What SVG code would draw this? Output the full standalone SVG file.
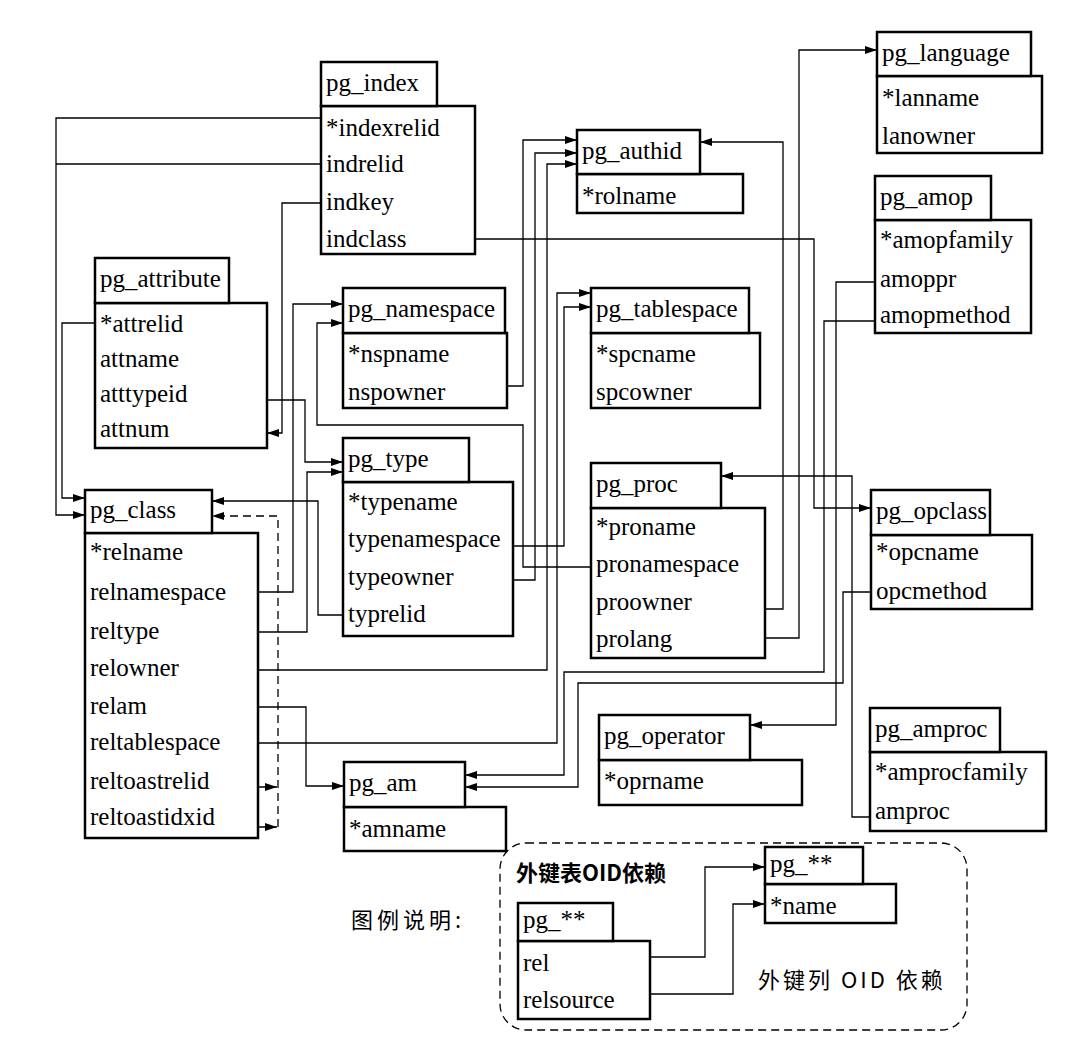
<svg xmlns="http://www.w3.org/2000/svg" width="1080" height="1046" viewBox="0 0 1080 1046">
<style>
.b{fill:#fff;stroke:#000;stroke-width:2.5}
.t{font-family:"Liberation Serif","Times New Roman",serif;font-size:25px;fill:#000}
.c{fill:none;stroke:#000;stroke-width:1.3}
.d{fill:none;stroke:#000;stroke-width:1.3;stroke-dasharray:8 5}
.z{font-family:"Noto Sans CJK SC","Noto Sans",sans-serif;font-size:22px;fill:#000}
</style>
<defs>
<marker id="a" viewBox="0 0 12 8" refX="12" refY="4" markerWidth="12" markerHeight="8" markerUnits="userSpaceOnUse" orient="auto"><path d="M0,0 L12,4 L0,8 z" fill="#000"/></marker>
</defs>
<rect width="1080" height="1046" fill="#fff"/>

<g id="connectors">
<path class="c" d="M321,118 H56 V515 H85" marker-end="url(#a)"/>
<path class="c" d="M321,164 H56"/>
<path class="c" d="M321,203 H282 V433 H267" marker-end="url(#a)"/>
<path class="c" d="M475,239 H814 V508 H871" marker-end="url(#a)"/>
<path class="c" d="M95,323 H62 V498 H85" marker-end="url(#a)"/>
<path class="c" d="M267,400 H305 V462 H343" marker-end="url(#a)"/>
<path class="c" d="M258,592 H293 V304 H343" marker-end="url(#a)"/>
<path class="c" d="M258,632 H307 V472 H343" marker-end="url(#a)"/>
<path class="c" d="M343,615 H318 V501 H212" marker-end="url(#a)"/>
<path class="c" d="M258,707 H306 V786 H344" marker-end="url(#a)"/>
<path class="d" d="M278,827 V516 H212" marker-end="url(#a)"/>
<path class="d" d="M258,787 H277" marker-end="url(#a)"/>
<path class="d" d="M258,827 H277" marker-end="url(#a)"/>
<path class="c" d="M258,670 H547 V164 H577" marker-end="url(#a)"/>
<path class="c" d="M258,743 H557 V293 H591" marker-end="url(#a)"/>
<path class="c" d="M507,386 H523 V140 H577" marker-end="url(#a)"/>
<path class="c" d="M513,580 H535 V153 H577" marker-end="url(#a)"/>
<path class="c" d="M513,546 H564 V307 H591" marker-end="url(#a)"/>
<path class="c" d="M591,567 H523 V425 H317 V323 H343" marker-end="url(#a)"/>
<path class="c" d="M765,609 H783 V142 H700" marker-end="url(#a)"/>
<path class="c" d="M765,638 H799 V50 H877" marker-end="url(#a)"/>
<path class="c" d="M875,282 H836 V725 H750" marker-end="url(#a)"/>
<path class="c" d="M875,321 H824 V672 H564 V775 H465" marker-end="url(#a)"/>
<path class="c" d="M871,592 H843 V683 H578 V787 H465" marker-end="url(#a)"/>
<path class="c" d="M870,817 H852 V476 H721" marker-end="url(#a)"/>
<path class="c" d="M650,957 H705 V867 H765" marker-end="url(#a)"/>
<path class="c" d="M650,994 H733 V904 H765" marker-end="url(#a)"/>
</g>

<g id="pg_index">
<rect class="b" x="321" y="106" width="154" height="148"/>
<rect class="b" x="321" y="62" width="116" height="44"/>
<text class="t" x="326" y="91">pg_index</text>
<text class="t" x="326" y="136">*indexrelid</text>
<text class="t" x="326" y="172">indrelid</text>
<text class="t" x="326" y="210">indkey</text>
<text class="t" x="326" y="247">indclass</text>
</g>

<g id="pg_authid">
<rect class="b" x="577" y="174" width="166" height="39"/>
<rect class="b" x="577" y="130" width="123" height="44"/>
<text class="t" x="582" y="159">pg_authid</text>
<text class="t" x="582" y="204">*rolname</text>
</g>

<g id="pg_language">
<rect class="b" x="877" y="76" width="165" height="77"/>
<rect class="b" x="877" y="32" width="154" height="44"/>
<text class="t" x="882" y="61">pg_language</text>
<text class="t" x="882" y="106">*lanname</text>
<text class="t" x="882" y="144">lanowner</text>
</g>

<g id="pg_amop">
<rect class="b" x="875" y="220" width="156" height="113"/>
<rect class="b" x="875" y="176" width="116" height="44"/>
<text class="t" x="880" y="205">pg_amop</text>
<text class="t" x="880" y="248">*amopfamily</text>
<text class="t" x="880" y="287">amoppr</text>
<text class="t" x="880" y="323">amopmethod</text>
</g>

<g id="pg_attribute">
<rect class="b" x="95" y="303" width="172" height="145"/>
<rect class="b" x="95" y="258" width="134" height="45"/>
<text class="t" x="100" y="287">pg_attribute</text>
<text class="t" x="100" y="332">*attrelid</text>
<text class="t" x="100" y="367">attname</text>
<text class="t" x="100" y="402">atttypeid</text>
<text class="t" x="100" y="437">attnum</text>
</g>

<g id="pg_namespace">
<rect class="b" x="343" y="333" width="164" height="75"/>
<rect class="b" x="343" y="288" width="162" height="45"/>
<text class="t" x="348" y="317">pg_namespace</text>
<text class="t" x="348" y="362">*nspname</text>
<text class="t" x="348" y="400">nspowner</text>
</g>

<g id="pg_tablespace">
<rect class="b" x="591" y="333" width="169" height="75"/>
<rect class="b" x="591" y="288" width="158" height="45"/>
<text class="t" x="596" y="317">pg_tablespace</text>
<text class="t" x="596" y="362">*spcname</text>
<text class="t" x="596" y="400">spcowner</text>
</g>

<g id="pg_type">
<rect class="b" x="343" y="482" width="170" height="154"/>
<rect class="b" x="343" y="438" width="126" height="44"/>
<text class="t" x="348" y="467">pg_type</text>
<text class="t" x="348" y="510">*typename</text>
<text class="t" x="348" y="547">typenamespace</text>
<text class="t" x="348" y="585">typeowner</text>
<text class="t" x="348" y="622">typrelid</text>
</g>

<g id="pg_proc">
<rect class="b" x="591" y="508" width="174" height="150"/>
<rect class="b" x="591" y="463" width="130" height="45"/>
<text class="t" x="596" y="492">pg_proc</text>
<text class="t" x="596" y="535">*proname</text>
<text class="t" x="596" y="572">pronamespace</text>
<text class="t" x="596" y="610">proowner</text>
<text class="t" x="596" y="647">prolang</text>
</g>

<g id="pg_opclass">
<rect class="b" x="871" y="535" width="161" height="74"/>
<rect class="b" x="871" y="490" width="119" height="45"/>
<text class="t" x="876" y="519">pg_opclass</text>
<text class="t" x="876" y="560">*opcname</text>
<text class="t" x="876" y="599">opcmethod</text>
</g>

<g id="pg_class">
<rect class="b" x="85" y="533" width="173" height="305"/>
<rect class="b" x="85" y="490" width="127" height="43"/>
<text class="t" x="90" y="518">pg_class</text>
<text class="t" x="90" y="560">*relname</text>
<text class="t" x="90" y="600">relnamespace</text>
<text class="t" x="90" y="639">reltype</text>
<text class="t" x="90" y="676">relowner</text>
<text class="t" x="90" y="714">relam</text>
<text class="t" x="90" y="750">reltablespace</text>
<text class="t" x="90" y="789">reltoastrelid</text>
<text class="t" x="90" y="825">reltoastidxid</text>
</g>

<g id="pg_operator">
<rect class="b" x="599" y="760" width="203" height="45"/>
<rect class="b" x="599" y="715" width="151" height="45"/>
<text class="t" x="604" y="744">pg_operator</text>
<text class="t" x="604" y="789">*oprname</text>
</g>

<g id="pg_amproc">
<rect class="b" x="870" y="752" width="176" height="79"/>
<rect class="b" x="870" y="708" width="130" height="44"/>
<text class="t" x="875" y="737">pg_amproc</text>
<text class="t" x="875" y="780">*amprocfamily</text>
<text class="t" x="875" y="819">amproc</text>
</g>

<g id="pg_am">
<rect class="b" x="344" y="807" width="162" height="44"/>
<rect class="b" x="344" y="762" width="121" height="45"/>
<text class="t" x="349" y="791">pg_am</text>
<text class="t" x="349" y="837">*amname</text>
</g>

<g id="legend">
<rect x="500" y="843" width="467" height="187" rx="26" ry="26" class="d"/>
<text class="z" x="351" y="928" letter-spacing="4">图例说明:</text>
<text class="z" x="516" y="881" font-weight="bold">外键表OID依赖</text>
<text class="z" x="758" y="988" letter-spacing="3">外键列 OID 依赖</text>
</g>

<g id="legend_src">
<rect class="b" x="518" y="941" width="132" height="78"/>
<rect class="b" x="518" y="903" width="95" height="38"/>
<text class="t" x="523" y="928">pg_**</text>
<text class="t" x="523" y="971">rel</text>
<text class="t" x="523" y="1008">relsource</text>
</g>

<g id="legend_dst">
<rect class="b" x="765" y="884" width="131" height="39"/>
<rect class="b" x="765" y="847" width="98" height="37"/>
<text class="t" x="770" y="872">pg_**</text>
<text class="t" x="770" y="914">*name</text>
</g>
</svg>
